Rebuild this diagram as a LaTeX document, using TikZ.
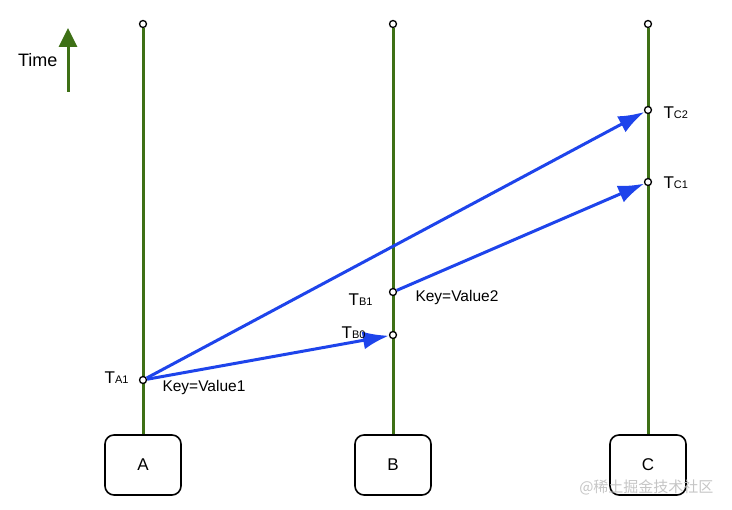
\documentclass[tikz,border=0pt]{standalone}
\usepackage{fontspec}
\setmainfont{Liberation Sans}
\newfontfamily\cjkfont{Noto Sans CJK SC}
\usetikzlibrary{arrows.meta,positioning}
\definecolor{lifegreen}{RGB}{62,112,22}
\definecolor{msgblue}{RGB}{30,68,235}
\newcommand{\evtlabel}[1]{{\fontsize{17}{17}\selectfont T}{\fontsize{11}{11}\selectfont #1}}
\tikzset{
  proc/.style={draw, rounded corners=9pt, line width=1.6pt, minimum width=76pt, minimum height=60pt, font=\fontsize{17}{17}\selectfont},
  tick/.style={circle, draw, line width=1.3pt, fill=white, inner sep=0pt, minimum size=7pt},
  life/.style={draw=lifegreen, line width=3pt},
  msg/.style={draw=msgblue, line width=3pt, -{Latex[length=26pt,width=18pt]}},
  keytext/.style={font=\fontsize{15.5}{15.5}\selectfont}
}
\begin{document}
\begin{tikzpicture}[x=1pt,y=1pt]
        \useasboundingbox (0,0) rectangle (732,510);
        \node[proc] (A) at (143,45) {A};
        \node[proc] (B) at (393,45) {B};
        \node[proc] (C) at (648,45) {C};
        \node[tick] (topA) at (143,486) {};
        \node[tick] (topB) at (393,486) {};
        \node[tick] (topC) at (648,486) {};
        \draw[life] (topA) -- (A) (topB) -- (B) (topC) -- (C);
        \node[tick] (a1) at (143,130) {};
        \node[tick] (b0) at (393,175) {};
        \node[tick] (b1) at (393,218) {};
        \node[tick] (c1) at (648,328) {};
        \node[tick] (c2) at (648,400) {};
        \draw[msg] (a1) -- (c2);
        \draw[msg] (a1) -- (b0);
        \draw[msg] (b1) -- (c1);
        \node[anchor=east] at (132,132) {\evtlabel{A1}};
        \node[anchor=east] at (369,177) {\evtlabel{B0}};
        \node[anchor=east] at (376,210) {\evtlabel{B1}};
        \node[anchor=west] at (660,397) {\evtlabel{C2}};
        \node[anchor=west] at (660,327) {\evtlabel{C1}};
        \node[keytext, anchor=west] at (159,122) {Key=Value1};
        \node[keytext, anchor=west] at (412,212) {Key=Value2};
        \coordinate (t0) at (68,418);
        \coordinate (t1) at (68,482);
        \draw[draw=lifegreen, line width=3pt, -{Triangle[length=19pt,width=18pt]}] (t0) -- (t1);
        \node[anchor=east, font=\fontsize{18}{18}\selectfont] (time) at (61,450) {Time};
        \node[anchor=east, text=black!25, opacity=0.9, font=\cjkfont\fontsize{15}{15}\selectfont] (mark) at (717,23) {@稀土掘金技术社区};
\end{tikzpicture}
\end{document}
